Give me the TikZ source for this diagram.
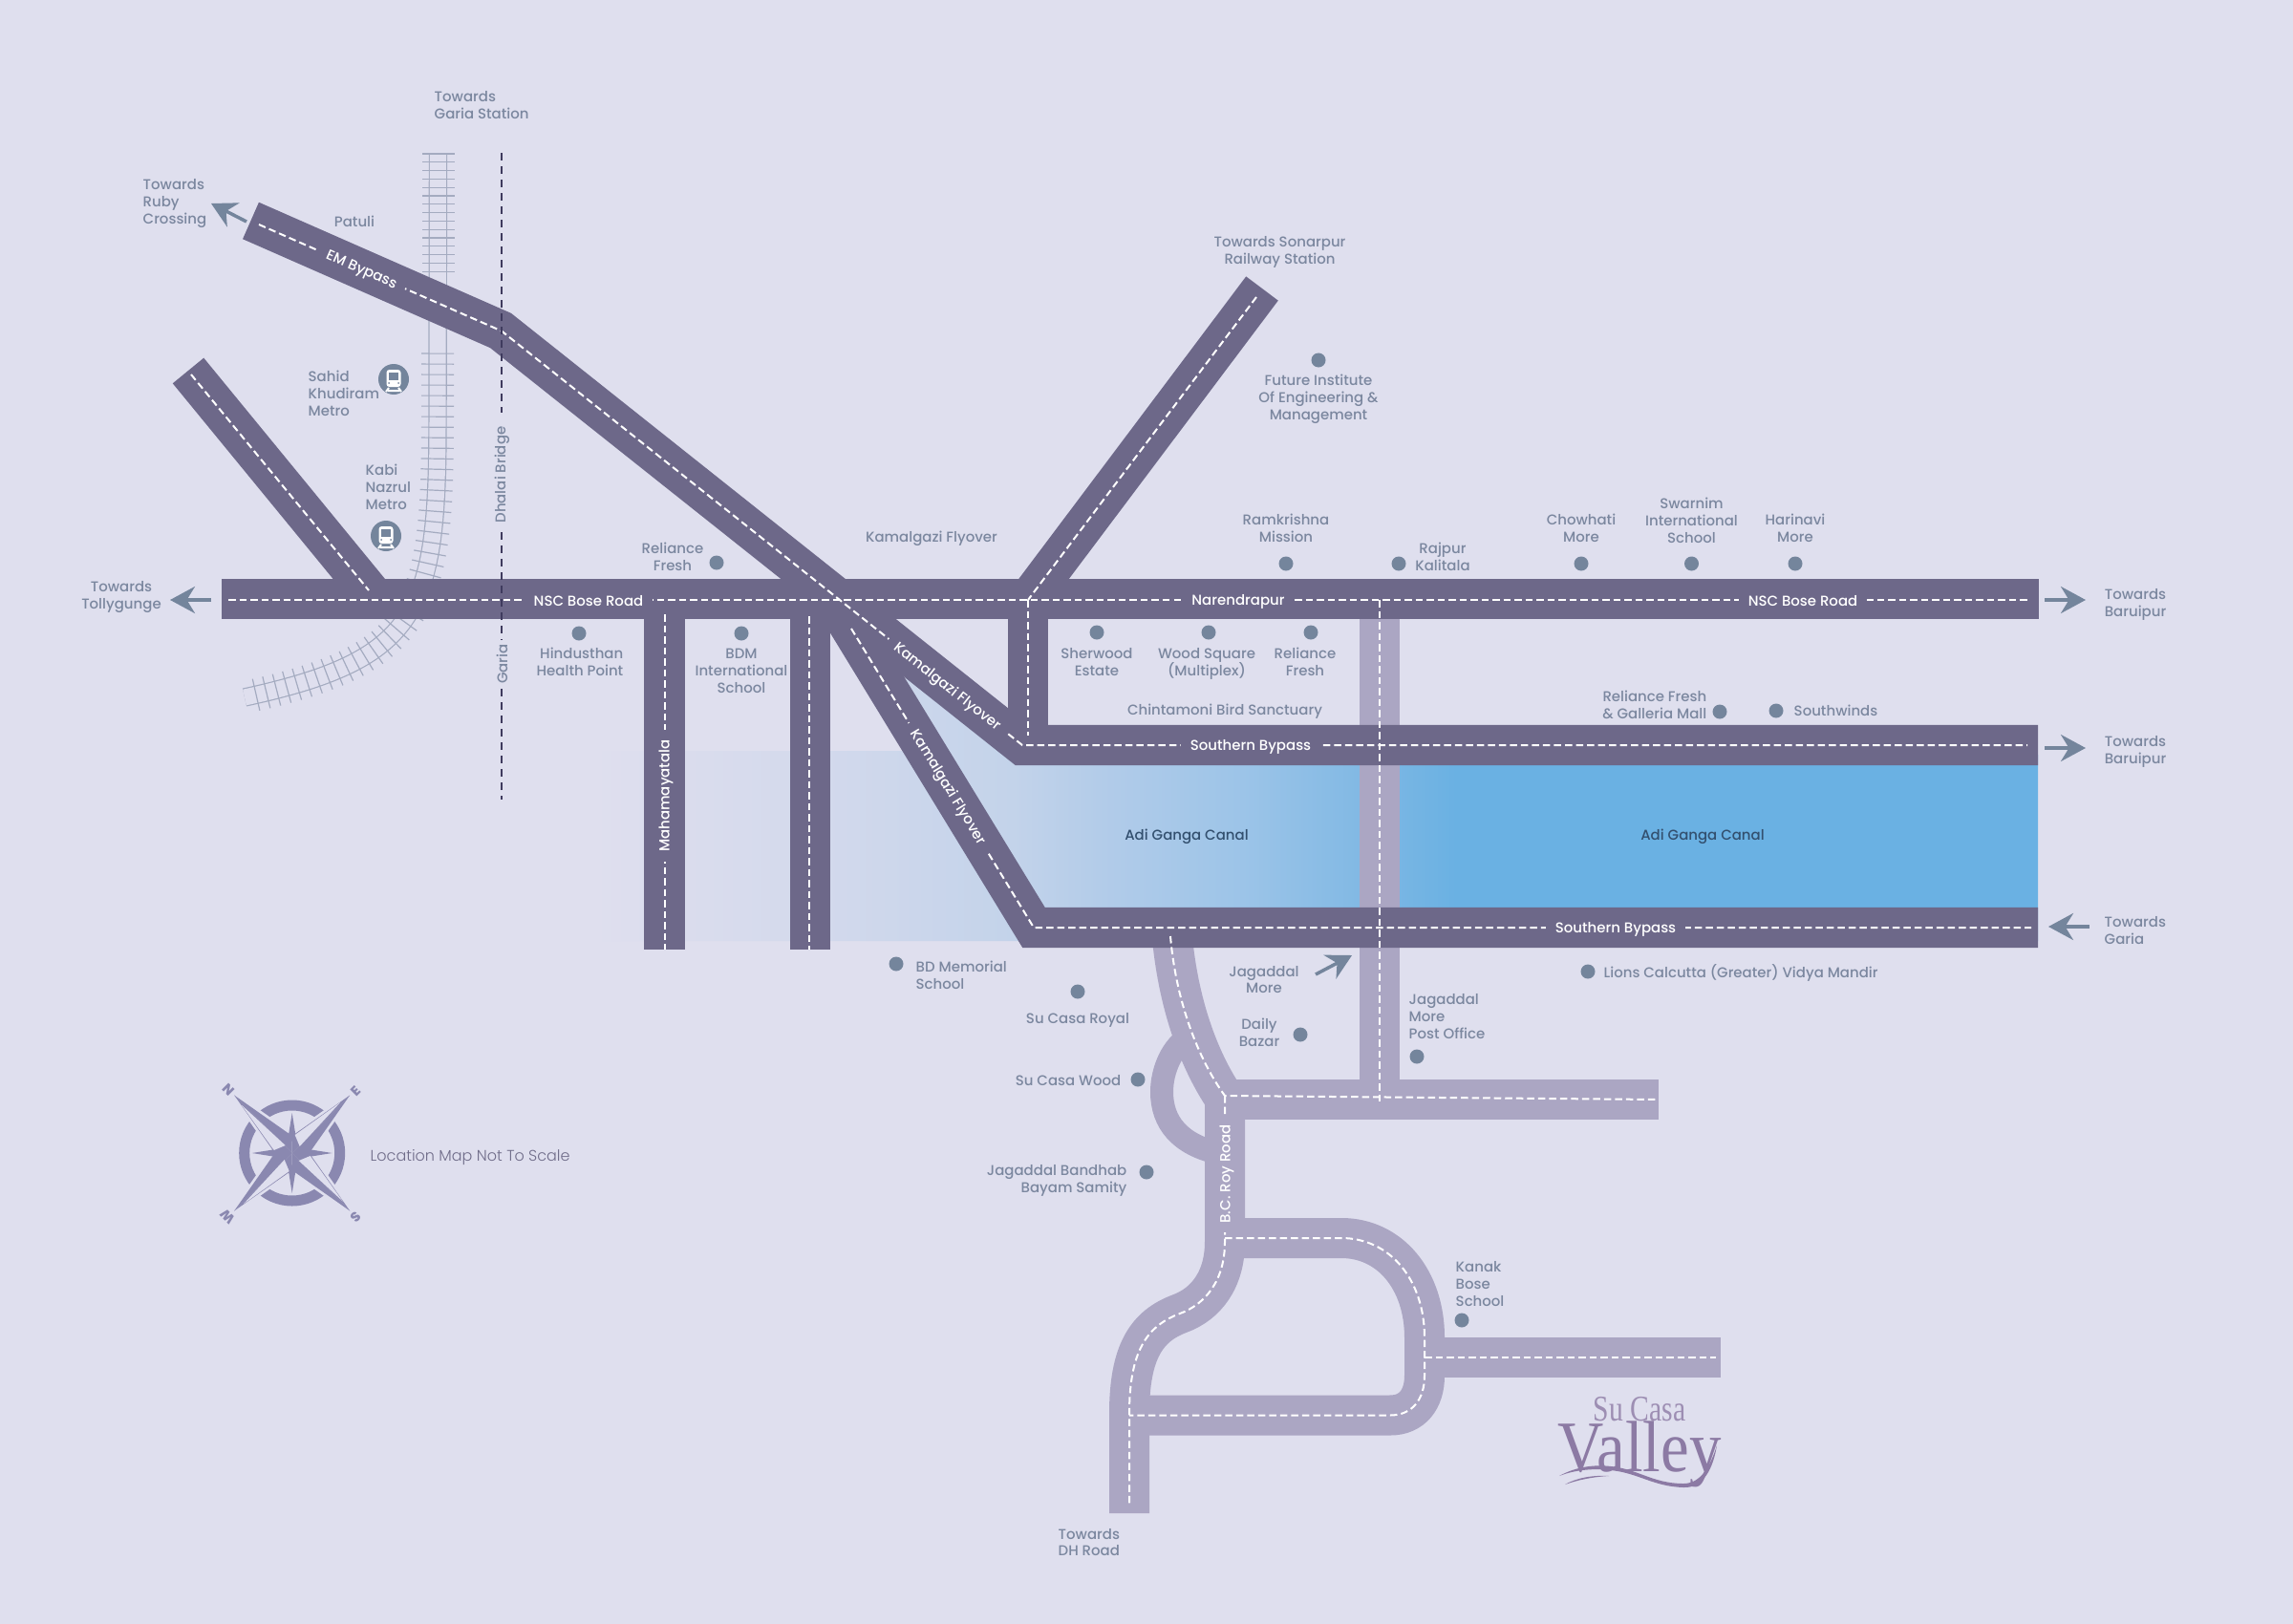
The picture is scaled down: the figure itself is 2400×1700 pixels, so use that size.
\documentclass[tikz,border=0pt]{standalone}
\usepackage{fontspec}
\setmainfont{Poppins Medium}
\newfontfamily\thinfont{Poppins Light}
\newfontfamily\logofont{Liberation Serif}
\usetikzlibrary{arrows.meta}
\usetikzlibrary{decorations.markings}
\normallineskiplimit=-3pt
\lineskiplimit=-3pt

\definecolor{mapbg}{HTML}{DFDFEE}
\definecolor{roaddark}{HTML}{6D6889}
\definecolor{roadlight}{HTML}{ABA6C3}
\definecolor{placetext}{HTML}{7B879F}
\definecolor{spotblue}{HTML}{74859C}
\definecolor{canalblue}{HTML}{6AB1E3}
\definecolor{canaltext}{HTML}{33506F}
\definecolor{railgrey}{HTML}{A4ABC0}
\definecolor{bridgeline}{HTML}{3F3B5E}
\definecolor{compassblue}{HTML}{8A88B0}
\definecolor{logopurple}{HTML}{8C7AA4}
\definecolor{fadea}{HTML}{D3D9EC}
\definecolor{fadeb}{HTML}{C3D3EA}
\definecolor{fadec}{HTML}{B3CCE9}
\definecolor{faded}{HTML}{9CC4E8}
\definecolor{fadee}{HTML}{82B9E4}

\pgfdeclarehorizontalshading{canalfade}{100bp}{color(0bp)=(mapbg); color(25bp)=(mapbg); color(32.75bp)=(fadea); color(39.55bp)=(fadeb);
    color(42.5bp)=(fadec); color(47.5bp)=(faded); color(51.5bp)=(fadee); color(54.85bp)=(canalblue); color(100bp)=(canalblue)}

\tikzset{
    x=0.01cm,y=-0.01cm,
    bigroad/.style={draw=roaddark,line width=0.42cm,line join=miter},
    sideroad/.style={draw=roadlight,line width=0.42cm},
    loopway/.style={draw=roadlight,line width=0.24cm},
    centreline/.style={draw=white,line width=0.02cm,dash pattern=on 0.075cm off 0.04cm},
    bridge/.style={draw=bridgeline,line width=0.02cm,dash pattern=on 0.08cm off 0.06cm},
    railway/.style={draw=railgrey,line width=0.012cm,double=mapbg,double distance=0.17cm},
    sleeper/.style={draw=railgrey,line width=0.012cm},
    roadname/.style={text=white,fill=#1,inner xsep=2.8pt,inner ysep=0.6pt,yshift=-0.015cm,font=\fontsize{4.25}{5.1}\selectfont},
    roadname/.default=roaddark,
    place/.style={text=placetext,inner sep=0pt,align=center,font=\fontsize{4.25}{5.1}\selectfont},
    spot/.style={circle,fill=spotblue,minimum size=0.15cm,inner sep=0pt},
    heading/.style={draw=spotblue,line width=0.035cm,-{Stealth[length=0.26cm,width=0.28cm,inset=0.085cm]}},
    compasspoint/.style={text=compassblue,inner sep=0pt,font=\bfseries\fontsize{4}{4}\selectfont},
    metroicon/.pic={
        \fill[spotblue] (0,0) circle (16);
        \fill[white,rounded corners=0.03cm] (-7.5,-10) rectangle (7.5,8);
        \fill[spotblue] (-5,-7) rectangle (5,1);
        \fill[spotblue] (-5,4) circle (1) (5,4) circle (1);
        \draw[white,line width=0.02cm] (-8,13) -- (-5,9) (8,13) -- (5,9) (-6,12) -- (6,12);
    }
}

\begin{document}
\begin{tikzpicture}
        \useasboundingbox (0,0) rectangle (2400,1700);
        \fill[mapbg] (0,0) rectangle (2400,1700);

        \shade[shading=canalfade] (620,786) -- (970,786) -- (945,700) -- (1070,790) -- (2133,790) -- (2133,985) -- (620,985) -- cycle;

        \draw[railway,postaction={decorate,decoration={markings,
            mark=between positions 2.09cm and 0.99 step 0.11cm with {\draw[sleeper] (0,-17) -- (0,17);}}}]
            (458.5,161) -- (458,440) .. controls (458,640) and (440,690) .. (256,730);
        \foreach \ty in {161,169.8,...,287}
            \draw[sleeper] (442,\ty) -- (476,\ty);

        \draw[loopway] (1245,1085) .. controls (1227,1095) and (1216,1120) .. (1216,1143) .. controls (1216,1175) and (1235,1198) .. (1275,1207);
        \draw[sideroad] (1444,640) -- (1444,1151);
        \draw[sideroad] (1226,971) .. controls (1232,1050) and (1255,1110) .. (1282,1150);
        \draw[sideroad] (1272,1151) -- (1736,1151);
        \draw[sideroad] (1282,1140) -- (1282,1300) .. controls (1282,1340) and (1262,1365) .. (1235,1375) .. controls (1200,1388) and (1182,1415) .. (1182,1480) -- (1182,1584);
        \draw[sideroad] (1282,1296) -- (1404,1296) .. controls (1455,1296) and (1491,1340) .. (1491,1400) -- (1491,1440) .. controls (1491,1465) and (1478,1481.5) .. (1455,1481.5) -- (1182,1481.5);
        \draw[sideroad] (1491,1421) -- (1801,1421);

        \draw[bigroad] (197,388) -- (393,627);
        \draw[bigroad] (1321,302) -- (1076,628);
        \draw[bigroad] (695.5,627) -- (695.5,994);
        \draw[bigroad] (848,627) -- (848,994);
        \draw[bigroad] (1076,627) -- (1076,780);
        \draw[bigroad] (872.5,628) -- (1082,971) -- (2133,971);
        \draw[bigroad] (262.5,231) -- (524,346) -- (1070,780) -- (2133,780);
        \draw[bigroad] (232,627) -- (2134,627);

        \draw[centreline] (271,235) -- (525,346.5) -- (1070,780) -- (2122,780);
        \draw[centreline] (891,658) -- (1082,971) -- (2126,971);
        \draw[centreline] (239,628) -- (2123,628);
        \draw[centreline] (200,392) -- (386,618);
        \draw[centreline] (1315,311) -- (1076,628);
        \draw[centreline] (695.5,643) -- (695.5,994);
        \draw[centreline] (847,645) -- (847,994);
        \draw[centreline] (1076,628) -- (1076,770);
        \draw[centreline] (1444,628) -- (1444,1155);
        \draw[centreline] (1225,980) .. controls (1231,1050) and (1255,1110) .. (1282,1147) -- (1736,1151);
        \draw[centreline] (1282,1147) -- (1282,1300) .. controls (1282,1340) and (1262,1365) .. (1235,1375) .. controls (1200,1388) and (1182,1415) .. (1182,1480) -- (1182,1577);
        \draw[centreline] (1282,1296) -- (1404,1296) .. controls (1455,1296) and (1491,1340) .. (1491,1400) -- (1491,1440) .. controls (1491,1465) and (1478,1481.5) .. (1455,1481.5) -- (1182,1481.5);
        \draw[centreline] (1491,1421) -- (1796,1421);

        \draw[bridge] (525,160) -- (525,432);
        \draw[bridge] (525,557) -- (525,670);
        \draw[bridge] (525,721) -- (525,837);
        \node[place,rotate=90] (dhalai) at (525.5,497) {Dhalai Bridge};
        \node[place,rotate=90] (garia) at (525.5,695) {Garia};

        \node[roadname,rotate=-23.7] (embypass) at (378,282) {EM Bypass};
        \node[roadname] (nscwest) at (616,628) {NSC Bose Road};
        \node[roadname] (narendrapur) at (1296,628) {Narendrapur};
        \node[roadname] (nsceast) at (1887,628) {NSC Bose Road};
        \node[roadname] (bypassnorth) at (1309,780) {Southern Bypass};
        \node[roadname] (bypasssouth) at (1691,971) {Southern Bypass};
        \node[roadname,rotate=90] (mahamayatala) at (697,831.5) {Mahamayatala};
        \node[roadname,rotate=-38.2] (flyovernorth) at (991,718) {Kamalgazi Flyover};
        \node[roadname,rotate=-58.6] (flyoversouth) at (992,823) {Kamalgazi Flyover};
        \node[roadname=roadlight,rotate=90] (bcroy) at (1284,1227.5) {B.C. Roy Road};

        \draw[heading] (258,232) -- (221,213);
        \draw[heading] (221,628) -- (178,628);
        \draw[heading] (2140,628) -- (2183,628);
        \draw[heading] (2140,783) -- (2183,783);
        \draw[heading] (2187,970) -- (2144,970);
        \draw[heading] (1377,1020) -- (1415,1000);

        \pic at (412,397) {metroicon};
        \pic at (404,561) {metroicon};

        \node[place,anchor=west,align=left] (gariastation) at (454,110) {Towards\\Garia Station};
        \node[place,anchor=west,align=left] (ruby) at (149,213) {Towards\\Ruby\\Crossing};
        \node[place] (patuli) at (371,232) {Patuli};
        \node[place,anchor=west,align=left] (sahid) at (322,412) {Sahid\\Khudiram\\Metro};
        \node[place,anchor=west,align=left] (kabi) at (382,510) {Kabi\\Nazrul\\Metro};
        \node[place] (tollygunge) at (127,625) {Towards\\Tollygunge};
        \node[place,anchor=east,align=right] (hindusthan) at (653,693) {Hindusthan\\Health Point};
        \node[place] (reliancea) at (704,583) {Reliance\\Fresh};
        \node[place] (bdm) at (776,702) {BDM\\International\\School};
        \node[place] (kamalgazi) at (975,563.5) {Kamalgazi Flyover};
        \node[place,anchor=west,align=left] (bdmemorial) at (958,1021) {BD Memorial\\School};
        \node[place] (casaroyal) at (1128,1068) {Su Casa Royal};
        \node[place] (jagaddal) at (1323,1025.5) {Jagaddal\\More};
        \node[place] (dailybazar) at (1318,1081) {Daily\\Bazar};
        \node[place,anchor=west,align=left] (postoffice) at (1474,1064) {Jagaddal\\More\\Post Office};
        \node[place,anchor=east] (casawood) at (1174,1131.5) {Su Casa Wood};
        \node[place,anchor=east,align=right] (bandhab) at (1180,1236) {Jagaddal Bandhab\\Bayam Samity};
        \node[place,anchor=west,align=left] (kanak) at (1523,1344) {Kanak\\Bose\\School};
        \node[place,anchor=west,align=left] (dhroad) at (1107,1614.5) {Towards\\DH Road};
        \node[place] (future) at (1380,417.5) {Future Institute\\Of Engineering \&\\Management};
        \node[place] (sonarpur) at (1339.5,263.5) {Towards Sonarpur\\Railway Station};
        \node[place] (ramkrishna) at (1346,553) {Ramkrishna\\Mission};
        \node[place] (rajpur) at (1510,583) {Rajpur\\Kalitala};
        \node[place] (sherwood) at (1148,693) {Sherwood\\Estate};
        \node[place] (woodsquare) at (1263,694.5) {Wood Square\\(Multiplex)};
        \node[place] (relianceb) at (1366,693) {Reliance\\Fresh};
        \node[place] (chintamoni) at (1282,745) {Chintamoni Bird Sanctuary};
        \node[place] (chowhati) at (1655,553) {Chowhati\\More};
        \node[place] (swarnim) at (1770.5,544.5) {Swarnim\\International\\School};
        \node[place] (harinavi) at (1879,553) {Harinavi\\More};
        \node[place,anchor=east,align=right] (galleria) at (1787,737.5) {Reliance Fresh\\\& Galleria Mall};
        \node[place,anchor=west] (southwinds) at (1877,744) {Southwinds};
        \node[place,anchor=west] (lions) at (1678,1018) {Lions Calcutta (Greater) Vidya Mandir};
        \node[place] (baruipura) at (2235,632.5) {Towards\\Baruipur};
        \node[place] (baruipurb) at (2235,787) {Towards\\Baruipur};
        \node[place,anchor=west,align=left] (towardsgaria) at (2202,974) {Towards\\Garia};
        \node[place,text=canaltext] (gangaa) at (1242,876) {Adi Ganga Canal};
        \node[place,text=canaltext] (gangab) at (1782,876) {Adi Ganga Canal};
        \node[place,anchor=west,text=bridgeline!70!mapbg,font=\thinfont\fontsize{4.55}{5.1}\selectfont] (notscale) at (387,1212) {Location Map Not To Scale};

        \foreach \sx/\sy [count=\si] in {606/663,750/589,776/663,938/1009,1128/1038,1361/1083,1483/1106,1191/1130,1200/1227,1530/1382,
            1380/377,1346/590,1464/590,1148/662,1265/662,1372/662,1655/590,1770.5/590,1879/590,1800/745,1859/744,1662/1017}
            \node[spot] (spot\si) at (\sx,\sy) {};

        \begin{scope}[shift={(305.7,1207)}]
            \draw[compassblue,line width=0.11cm] (0,0) circle (50);
            \foreach \r in {0,-90,-180,-270}
                \draw[rotate=\r,mapbg,fill=mapbg,line width=0.055cm] (-60.5,-60.5) -- (0,-18) -- (-18,0) -- cycle;
            \foreach \r in {0,-90,-180,-270} {
                \begin{scope}[rotate=\r]
                    \fill[compassblue] (0,-42) -- (3.5,-20) -- (0,-12) -- (-3.5,-20) -- cycle;
                    \fill[compassblue] (-60.5,-60.5) -- (0,-18) -- (0,0) -- cycle;
                    \fill[compassblue] (-60.5,-60.5) -- (-18,0) -- (0,0) -- cycle;
                    \fill[mapbg] (-53,-50.5) -- (-19,-3) -- (-7,-8) -- cycle;
                \end{scope}
            }
        \end{scope}
        \node[compasspoint,rotate=-45] (compassn) at (239,1141) {N};
        \node[compasspoint,rotate=45] (compasse) at (372,1142) {E};
        \node[compasspoint,rotate=-135] (compasss) at (372,1274) {S};
        \node[compasspoint,rotate=135] (compassw) at (238,1274) {W};

        \node[inner sep=0pt,text=logopurple!80!mapbg,font=\logofont\fontsize{10.8}{11}\selectfont,xscale=0.78] (logocasa) at (1716,1475) {Su Casa};
        \node[inner sep=0pt,text=logopurple,font=\logofont\fontsize{21.6}{22}\selectfont,xscale=0.88] (logovalley) at (1716,1522) {Valley};
        \fill[logopurple] (1632,1545) .. controls (1650,1535) and (1670,1533) .. (1686,1535) .. controls (1715,1538) and (1730,1553) .. (1762,1553) .. controls (1780,1553) and (1790,1535) .. (1797,1513) .. controls (1793,1537) and (1783,1558) .. (1762,1557) .. controls (1730,1556) and (1715,1542) .. (1686,1539) .. controls (1670,1537) and (1650,1538) .. (1632,1545) -- cycle;
        \fill[logopurple] (1638,1554) .. controls (1650,1547) and (1667,1544) .. (1684,1545) .. controls (1667,1546) and (1652,1549) .. (1638,1554) -- cycle;
    \end{tikzpicture}
\end{document}
